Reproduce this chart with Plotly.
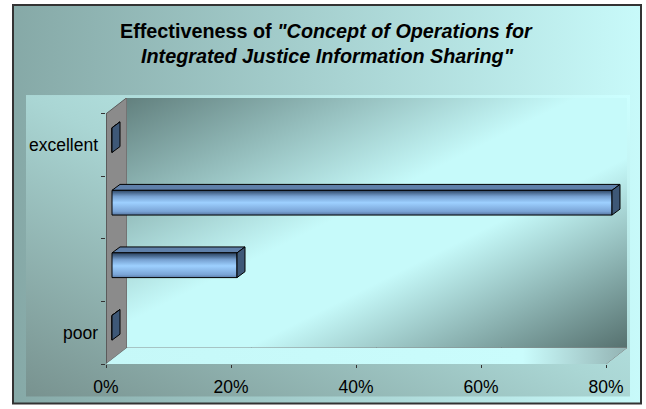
import base64
import plotly.graph_objects as go

# ---------------- data ----------------
categories = ["poor", "", "", "excellent"]
values = [0.0, 0.20, 0.80, 0.0]
x_ticks = [0.0, 0.2, 0.4, 0.6, 0.8]
title_line1 = '<b>Effectiveness of <i>"Concept of Operations for</i></b>'
title_line2 = '<b><i>Integrated Justice Information Sharing"</i></b>'

# ---------------- geometry (pixels) ----------------
W, H = 646, 409
PL, PR, PT, PB = 106, 627, 98, 367      # plot area edges
KX = 625.0                              # px per unit on x (0..0.8 -> 500px)
KY = 63.25                              # px per category
XMAX = (PR - PL) / KX
YMIN = -0.5
YMAX = YMIN + (PB - PT) / KY
DX = 21 / KX                            # 3D depth offset
DY = 16.5 / KY
FX, FY = 6 / KX, 5 / KY                 # bar front offset
BDX, BDY = 8 / KX, 6 / KY               # bar depth
HH = 12.5 / KY                          # half bar height
XEND = max(x_ticks)
FONT = "Liberation Sans, Arial, sans-serif"


def px2paper_x(px):
    return (px - PL) / (PR - PL)


def px2paper_y(py):
    return (PB - py) / (PB - PT)


def svg_uri(svg):
    return "data:image/svg+xml;base64," + base64.b64encode(svg.encode()).decode()


def grad_rect(stops, x1, y1, x2, y2):
    st = "".join(f'<stop offset="{o}" stop-color="{c}"/>' for o, c in stops)
    return svg_uri(
        '<svg xmlns="http://www.w3.org/2000/svg" width="100" height="100" '
        'viewBox="0 0 100 100" preserveAspectRatio="none"><defs>'
        f'<linearGradient id="g" x1="{x1}" y1="{y1}" x2="{x2}" y2="{y2}">{st}</linearGradient>'
        '</defs><rect width="100" height="100" fill="url(#g)"/></svg>')


fw = (XEND + DX) * KX
fh = DY * KY
floor_svg = svg_uri(
    f'<svg xmlns="http://www.w3.org/2000/svg" width="{fw}" height="{fh}" '
    f'viewBox="0 0 {fw} {fh}" preserveAspectRatio="none"><defs>'
    '<linearGradient id="f" x1="0" y1="0" x2="1" y2="0">'
    '<stop offset="0" stop-color="#c6f8f8"/><stop offset="0.8" stop-color="#cafcfc"/>'
    '<stop offset="1" stop-color="#93b3b3"/></linearGradient></defs>'
    f'<polygon points="0,{fh} {XEND*KX},{fh} {fw},0 {DX*KX},0" fill="url(#f)"/></svg>')

fig = go.Figure()

# ---------------- bars (3D look) ----------------
front_scale = [[0, "#48648c"], [0.2, "#7aa4d6"], [0.55, "#9dd0ff"],
               [0.8, "#76a0d0"], [1, "#3a5678"]]
for i, v in enumerate(values):
    yc = i + FY
    yb, yt = yc - HH, yc + HH
    x0, x1 = FX, FX + v
    # top face
    fig.add_trace(go.Scatter(
        x=[x0, x1, x1 + BDX, x0 + BDX, x0], y=[yt, yt, yt + BDY, yt + BDY, yt],
        mode="lines", fill="toself", fillcolor="#5f80aa",
        line=dict(color="#000000", width=1), hoverinfo="skip", showlegend=False))
    # front face
    fig.add_trace(go.Scatter(
        x=[x0, x1, x1, x0, x0], y=[yb, yb, yt, yt, yb],
        mode="lines", fill="toself",
        fillgradient=dict(type="vertical", colorscale=front_scale, start=yb, stop=yt),
        line=dict(color="#000000", width=1), hoverinfo="skip", showlegend=False))
    # end cap
    fig.add_trace(go.Scatter(
        x=[x1, x1 + BDX, x1 + BDX, x1, x1], y=[yb, yb + BDY, yt + BDY, yt, yb],
        mode="lines", fill="toself", fillcolor="#3e5877",
        line=dict(color="#000000", width=1), hoverinfo="skip", showlegend=False))

# ---------------- background images ----------------
images = [
    dict(source=grad_rect([(0, "#86a9a7"), (1, "#c8fafa")], 0, 0, 1, 0),
         xref="paper", yref="paper", x=px2paper_x(13), y=px2paper_y(4),
         sizex=(641 - 13) / (PR - PL), sizey=(407 - 4) / (PB - PT)),
    dict(source=grad_rect([(0, "#78928f"), (0.5, "#aad6d4"), (1, "#ccffff")], 0, 1, 1, 0),
         xref="paper", yref="paper", x=px2paper_x(26), y=px2paper_y(95),
         sizex=(630 - 26) / (PR - PL), sizey=(400 - 95) / (PB - PT)),
    dict(source=grad_rect([(0, "#62807e"), (0.45, "#c6fafa"), (0.62, "#c6fafa"),
                           (1, "#56716f")], 0, 0, 1, 1),
         xref="x", yref="y", x=DX, y=3.5 + DY, sizex=XEND, sizey=4),
    dict(source=floor_svg, xref="x", yref="y", x=0, y=YMIN + DY,
         sizex=XEND + DX, sizey=DY),
]
for im in images:
    im.update(xanchor="left", yanchor="top", sizing="stretch", layer="below")

# ---------------- shapes ----------------
shapes = []
# outer border
shapes.append(dict(type="rect", xref="paper", yref="paper",
                   x0=px2paper_x(13), x1=px2paper_x(641),
                   y0=px2paper_y(407), y1=px2paper_y(4),
                   line=dict(color="#333333", width=2), layer="below"))
# back wall gridlines
for v in x_ticks[1:-1]:
    shapes.append(dict(type="line", xref="x", yref="y", x0=v + DX, x1=v + DX,
                       y0=YMIN + DY, y1=3.5 + DY,
                       line=dict(color="#2a2a2a", width=1), layer="below"))
# back wall border
shapes.append(dict(type="rect", xref="x", yref="y", x0=DX, x1=XEND + DX,
                   y0=YMIN + DY, y1=3.5 + DY,
                   line=dict(color="#808080", width=1.5), layer="below"))
# side wall
shapes.append(dict(type="path", xref="x", yref="y",
                   path=f"M 0,{YMIN} L 0,3.5 L {DX},{3.5+DY} L {DX},{YMIN+DY} Z",
                   fillcolor="#8b8b8b", line=dict(color="#5a5a5a", width=1), layer="below"))
# floor diagonal gridlines
for v in x_ticks[1:]:
    shapes.append(dict(type="line", xref="x", yref="y", x0=v, x1=v + DX,
                       y0=YMIN, y1=YMIN + DY,
                       line=dict(color="#333333" if v < XEND else "#808080", width=1),
                       layer="below"))
# front axes
shapes.append(dict(type="line", xref="x", yref="y", x0=0, x1=XEND, y0=YMIN, y1=YMIN,
                   line=dict(color="#3a3a3a", width=2), layer="below"))
shapes.append(dict(type="line", xref="x", yref="y", x0=0, x1=0, y0=YMIN, y1=3.5,
                   line=dict(color="#555555", width=1.5), layer="below"))

# ---------------- title ----------------
annotations = [
    dict(text=title_line1, xref="paper", yref="paper", x=px2paper_x(326),
         y=px2paper_y(30), xanchor="center", yanchor="middle", showarrow=False,
         font=dict(family=FONT, size=19.8, color="#000000")),
    dict(text=title_line2, xref="paper", yref="paper", x=px2paper_x(327),
         y=px2paper_y(56), xanchor="center", yanchor="middle", showarrow=False,
         font=dict(family=FONT, size=19.8, color="#000000")),
]

fig.update_layout(
    width=W, height=H,
    margin=dict(l=PL, r=W - PR, t=PT, b=H - PB, pad=0),
    paper_bgcolor="#ffffff", plot_bgcolor="rgba(0,0,0,0)",
    images=images, shapes=shapes, annotations=annotations,
    showlegend=False,
    font=dict(family=FONT, size=17.5, color="#000000"),
)
fig.update_xaxes(range=[0, XMAX], tickvals=x_ticks, tickformat=".0%",
                 showgrid=False, zeroline=False, showline=False,
                 ticks="outside", ticklen=3, tickcolor="#333333",
                 ticklabelstandoff=4,
                 tickfont=dict(family=FONT, size=17.5, color="#000000"),
                 fixedrange=True)
fig.update_yaxes(range=[YMIN, YMAX], tickvals=list(range(len(categories))),
                 ticktext=categories, showgrid=False, zeroline=False, showline=False,
                 ticks="", ticklabelstandoff=7,
                 minor=dict(tickmode="linear", tick0=-0.5, dtick=1, ticks="outside",
                            ticklen=4, tickcolor="#333333", showgrid=False),
                 tickfont=dict(family=FONT, size=17.5, color="#000000"),
                 fixedrange=True)

fig.write_html("out.html", config={"displayModeBar": False},
               post_script="document.body.style.margin='0';")
